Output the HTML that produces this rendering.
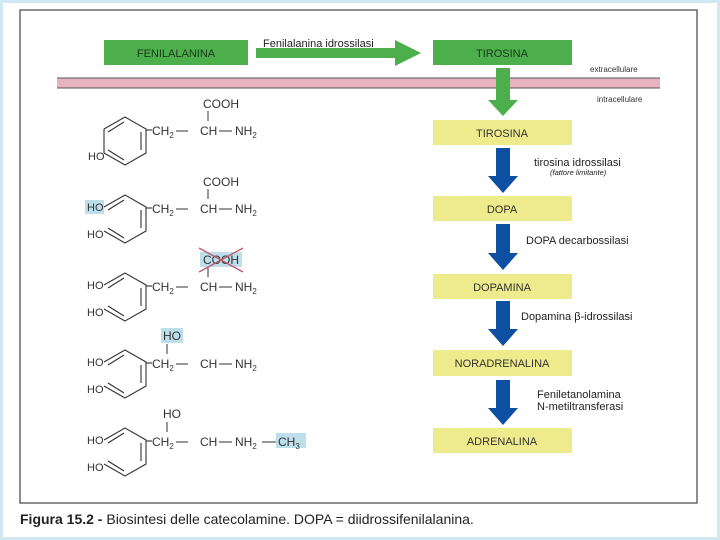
<!DOCTYPE html>
<html><head><meta charset="utf-8"><style>
html,body{margin:0;padding:0;background:#fff}
body{width:720px;height:540px;overflow:hidden;position:relative;font-family:"Liberation Sans",sans-serif}
svg{position:absolute;left:0;top:0}
</style></head><body>
<svg width="720" height="540" viewBox="0 0 720 540" font-family="Liberation Sans, sans-serif">
<rect x="1" y="1" width="718" height="538" fill="#fff" stroke="#cfe8f2" stroke-width="4"/>
<rect x="20" y="10" width="677" height="493" fill="#fff" stroke="#444" stroke-width="1.2"/>
<rect x="104" y="40" width="144" height="25" fill="#4caf4c"/>
<text x="176" y="57" font-size="11" text-anchor="middle" fill="#1a3a1a">FENILALANINA</text>
<rect x="433" y="40" width="139" height="25" fill="#4caf4c"/>
<text x="502" y="57" font-size="11" text-anchor="middle" fill="#1a3a1a">TIROSINA</text>
<polygon points="256,48 395,48 395,40 421,53 395,66 395,58 256,58" fill="#4caf4c"/>
<text x="263" y="47" font-size="11" fill="#222">Fenilalanina idrossilasi</text>
<rect x="57" y="78" width="603" height="10" fill="#e6b3bf"/>
<line x1="57" y1="78" x2="660" y2="78" stroke="#555" stroke-width="1"/>
<line x1="57" y1="88" x2="660" y2="88" stroke="#555" stroke-width="1"/>
<text x="590" y="72" font-size="8" fill="#333">extracellulare</text>
<text x="597" y="102" font-size="8" fill="#333">intracellulare</text>
<polygon points="496,68 510,68 510,100 518,100 503,116 488,100 496,100" fill="#4caf4c"/>
<g fill="#eeeb8c">
<rect x="433" y="120" width="139" height="25"/>
<rect x="433" y="196" width="139" height="25"/>
<rect x="433" y="274" width="139" height="25"/>
<rect x="433" y="350" width="139" height="26"/>
<rect x="433" y="428" width="139" height="25"/>
</g>
<g font-size="11" text-anchor="middle" fill="#333">
<text x="502" y="137">TIROSINA</text>
<text x="502" y="213">DOPA</text>
<text x="502" y="291">DOPAMINA</text>
<text x="502" y="367">NORADRENALINA</text>
<text x="502" y="445">ADRENALINA</text>
</g>
<g fill="#0d4fa0">
<polygon points="496,148 510,148 510,176 518,176 503,193 488,176 496,176"/>
<polygon points="496,224 510,224 510,253 518,253 503,270 488,253 496,253"/>
<polygon points="496,301 510,301 510,329 518,329 503,346 488,329 496,329"/>
<polygon points="496,380 510,380 510,408 518,408 503,425 488,408 496,408"/>
</g>
<g font-size="11" fill="#222">
<text x="534" y="166">tirosina idrossilasi</text>
<text x="550" y="175" font-size="7.5" font-style="italic">(fattore limitante)</text>
<text x="526" y="244">DOPA decarbossilasi</text>
<text x="521" y="320">Dopamina β-idrossilasi</text>
<text x="537" y="398">Feniletanolamina</text>
<text x="537" y="410">N-metiltransferasi</text>
</g>
<defs>
<g id="ring" fill="none" stroke="#333" stroke-width="1.1">
<polyline points="104,129 125,117 146,129 146,153 125,165 104,153"/>
<line x1="108" y1="132" x2="124" y2="122"/>
<line x1="141" y1="132" x2="141" y2="150"/>
<line x1="108" y1="150" x2="124" y2="160"/>
<line x1="146" y1="130" x2="152" y2="130"/>
</g>
</defs>
<g font-size="12" fill="#333" stroke="none">
<use href="#ring"/>
<line x1="104" y1="129" x2="104" y2="153" stroke="#333" stroke-width="1.1"/>
<text x="88" y="160" font-size="11">HO</text>
<text x="152" y="135">CH<tspan font-size="8" dy="3">2</tspan></text>
<line x1="176" y1="131" x2="188" y2="131" stroke="#333"/>
<text x="200" y="135">CH</text>
<line x1="219" y1="131" x2="232" y2="131" stroke="#333"/>
<text x="235" y="135">NH<tspan font-size="8" dy="3">2</tspan></text>
<text x="203" y="108">COOH</text>
<line x1="208" y1="111" x2="208" y2="121" stroke="#333"/>
<g transform="translate(0,78)">
<use href="#ring"/>
<rect x="85" y="122" width="19" height="14" fill="#bddfeb"/>
<text x="87" y="133" font-size="11">HO</text>
<text x="87" y="160" font-size="11">HO</text>
<text x="152" y="135">CH<tspan font-size="8" dy="3">2</tspan></text>
<line x1="176" y1="131" x2="188" y2="131" stroke="#333"/>
<text x="200" y="135">CH</text>
<line x1="219" y1="131" x2="232" y2="131" stroke="#333"/>
<text x="235" y="135">NH<tspan font-size="8" dy="3">2</tspan></text>
<text x="203" y="108">COOH</text>
<line x1="208" y1="111" x2="208" y2="121" stroke="#333"/>
</g>
<g transform="translate(0,156)">
<use href="#ring"/>
<text x="87" y="133" font-size="11">HO</text>
<text x="87" y="160" font-size="11">HO</text>
<text x="152" y="135">CH<tspan font-size="8" dy="3">2</tspan></text>
<line x1="176" y1="131" x2="188" y2="131" stroke="#333"/>
<text x="200" y="135">CH</text>
<line x1="219" y1="131" x2="232" y2="131" stroke="#333"/>
<text x="235" y="135">NH<tspan font-size="8" dy="3">2</tspan></text>
<rect x="200" y="96" width="42" height="15" fill="#bddfeb"/>
<text x="203" y="108">COOH</text>
<line x1="208" y1="111" x2="208" y2="121" stroke="#333"/>
<line x1="199" y1="92" x2="243" y2="116" stroke="#c0556a" stroke-width="1.3"/>
<line x1="199" y1="116" x2="243" y2="92" stroke="#c0556a" stroke-width="1.3"/>
</g>
<g transform="translate(0,233)">
<use href="#ring"/>
<text x="87" y="133" font-size="11">HO</text>
<text x="87" y="160" font-size="11">HO</text>
<text x="152" y="135">CH<tspan font-size="8" dy="3">2</tspan></text>
<line x1="176" y1="131" x2="188" y2="131" stroke="#333"/>
<text x="200" y="135">CH</text>
<line x1="219" y1="131" x2="232" y2="131" stroke="#333"/>
<text x="235" y="135">NH<tspan font-size="8" dy="3">2</tspan></text>
<rect x="161" y="95" width="22" height="15" fill="#bddfeb"/>
<text x="163" y="107">HO</text>
<line x1="167" y1="111" x2="167" y2="121" stroke="#333"/>
</g>
<g transform="translate(0,311)">
<use href="#ring"/>
<text x="87" y="133" font-size="11">HO</text>
<text x="87" y="160" font-size="11">HO</text>
<text x="152" y="135">CH<tspan font-size="8" dy="3">2</tspan></text>
<line x1="176" y1="131" x2="188" y2="131" stroke="#333"/>
<text x="200" y="135">CH</text>
<line x1="219" y1="131" x2="232" y2="131" stroke="#333"/>
<text x="235" y="135">NH<tspan font-size="8" dy="3">2</tspan></text>
<line x1="262" y1="131" x2="276" y2="131" stroke="#333"/>
<rect x="276" y="122" width="30" height="15" fill="#bddfeb"/>
<text x="278" y="135">CH<tspan font-size="8" dy="3">3</tspan></text>
<text x="163" y="107">HO</text>
<line x1="167" y1="111" x2="167" y2="121" stroke="#333"/>
</g>
</g>
<text x="20" y="524" font-size="14" fill="#222"><tspan font-weight="bold">Figura 15.2 -</tspan> Biosintesi delle catecolamine. DOPA = diidrossifenilalanina.</text>
</svg>
</body></html>
